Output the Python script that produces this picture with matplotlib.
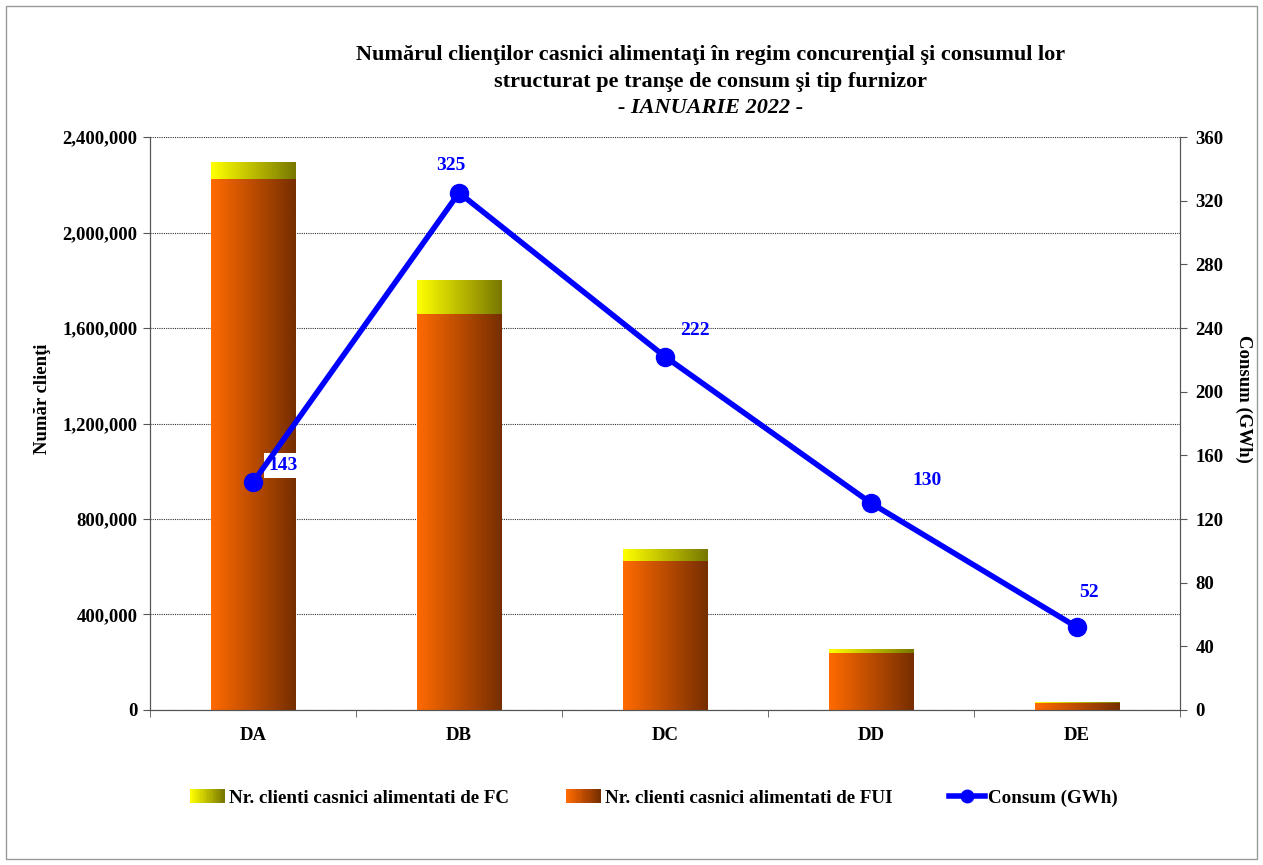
import numpy as np
import matplotlib.pyplot as plt
from matplotlib.patches import Rectangle
from matplotlib.legend_handler import HandlerBase
from matplotlib.lines import Line2D
from matplotlib.ticker import FuncFormatter, MultipleLocator, FixedLocator

plt.rcParams['font.family'] = ['Liberation Serif', 'DejaVu Serif']
plt.rcParams['font.weight'] = 'bold'

# Date
categorii = ["DA", "DB", "DC", "DD", "DE"]
clienti_fui = [2224000, 1658000, 624000, 239000, 29000]
clienti_fc = [71000, 143000, 50000, 16000, 4500]
consum = [143, 325, 222, 130, 52]

grad_fc = ("#FFFF00", "#787800")
grad_fui = ("#FF6A00", "#772E00")


def gradient_img(c1, c2, n=64):
    a = np.array(plt.matplotlib.colors.to_rgb(c1))
    b = np.array(plt.matplotlib.colors.to_rgb(c2))
    t = np.linspace(0, 1, n)[:, None]
    return (a + (b - a) * t)[None, :, :]


def umple_gradient(ax, bars, c1, c2):
    img = gradient_img(c1, c2)
    for b in bars:
        x, y = b.get_x(), b.get_y()
        w, h = b.get_width(), b.get_height()
        b.set_facecolor("none")
        b.set_edgecolor("none")
        im = ax.imshow(img, extent=[x, x + w, y, y + h], aspect="auto",
                       zorder=2, interpolation="bilinear")
        im.set_clip_path(b)


class HandlerGradient(HandlerBase):
    def __init__(self, c1, c2):
        super().__init__()
        self.c1, self.c2 = c1, c2

    def create_artists(self, legend, orig_handle, xdescent, ydescent,
                       width, height, fontsize, trans):
        n = 20
        cols = gradient_img(self.c1, self.c2, n)[0]
        arts = []
        for i in range(n):
            r = Rectangle((-xdescent + width * i / n, -ydescent), width / n + 0.3,
                          height, facecolor=cols[i], edgecolor="none",
                          transform=trans)
            arts.append(r)
        return arts


fig = plt.figure(figsize=(12.63, 8.65), dpi=100)
ax = fig.add_axes([0.1188, 0.1792, 0.8155, 0.6624])
x = np.arange(len(categorii))

bars_fui = ax.bar(x, clienti_fui, width=0.41, zorder=2)
bars_fc = ax.bar(x, clienti_fc, width=0.41, bottom=clienti_fui, zorder=2)
umple_gradient(ax, bars_fui, *grad_fui)
umple_gradient(ax, bars_fc, *grad_fc)

ax.set_xlim(-0.5, len(categorii) - 0.5)
ax.set_ylim(0, 2400000)
ax.yaxis.set_major_locator(MultipleLocator(400000))
ax.yaxis.set_major_formatter(FuncFormatter(lambda v, p: f"{int(v):,}"))
ax.yaxis.grid(True, color="#333333", linestyle=(0, (1, 1)), linewidth=0.8)
ax.set_axisbelow(True)
ax.set_xticks(x)
ax.set_xticklabels(categorii)
ax.tick_params(axis="x", which="major", length=0, pad=12, labelsize=13.5)
ax.xaxis.set_minor_locator(FixedLocator(np.arange(-0.5, len(categorii), 1.0)))
ax.tick_params(axis="x", which="minor", length=5, color="#555555")
ax.tick_params(axis="y", labelsize=13.5, length=5, color="#555555", pad=4)
ax.set_ylabel("Număr clienţi", fontsize=13.5, fontweight="bold", va="center")
ax.yaxis.set_label_coords(-0.104, 0.543)
ax.spines["top"].set_visible(False)
for s in ["left", "right", "bottom"]:
    ax.spines[s].set_color("#555555")

ax2 = ax.twinx()
ax2.plot(x, consum, color="#0000FF", linewidth=4, marker="o", markersize=13,
         zorder=5)
ax2.set_ylim(0, 360)
ax2.yaxis.set_major_locator(MultipleLocator(40))
ax2.tick_params(axis="y", labelsize=13.5, length=5, color="#555555", pad=6)
ax2.spines["top"].set_visible(False)
for s in ["left", "right", "bottom"]:
    ax2.spines[s].set_color("#555555")
ax2.set_ylabel("Consum (GWh)", fontsize=13.5, fontweight="bold", rotation=270,
               va="center")
ax2.yaxis.set_label_coords(1.062, 0.543)

offsets = [(21.6, 12.2), (-5.8, 19.4), (21.6, 18.7), (40, 16.6), (8.6, 25.2)]
for i, v in enumerate(consum):
    box = dict(facecolor="white", edgecolor="none", pad=3) if i == 0 else None
    ax2.annotate(f"{v}", (x[i], v), xytext=offsets[i], textcoords="offset points",
                 ha="center", va="center", color="#0000FF", fontsize=14,
                 fontweight="bold", bbox=box)

titlu = ["Numărul clienţilor casnici alimentaţi în regim concurenţial şi consumul lor",
         "structurat pe tranşe de consum şi tip furnizor"]
fig.text(0.5625, 1 - 55 / 865, titlu[0], ha="center", va="center",
         fontsize=16, fontweight="bold")
fig.text(0.5625, 1 - 82 / 865, titlu[1], ha="center", va="center",
         fontsize=16, fontweight="bold")
fig.text(0.5625, 1 - 108 / 865, "- IANUARIE 2022 -", ha="center", va="center",
         fontsize=16, fontweight="bold", style="italic")

h_fc = Rectangle((0, 0), 1, 1)
h_fui = Rectangle((0, 0), 1, 1)
h_line = Line2D([], [], color="#0000FF", linewidth=4, marker="o", markersize=9)
fig.legend([h_fc, h_fui, h_line],
           ["Nr. clienti casnici alimentati de FC",
            "Nr. clienti casnici alimentati de FUI",
            "Consum (GWh)"],
           handler_map={h_fc: HandlerGradient(*grad_fc),
                        h_fui: HandlerGradient(*grad_fui)},
           loc="center", bbox_to_anchor=(654 / 1263, 1 - 798 / 865), ncol=3,
           frameon=False, fontsize=13.7, handlelength=1.85, handletextpad=0.2,
           columnspacing=3.0, borderpad=0)

fig.patches.append(Rectangle((0.005, 0.007), 0.99, 0.986, transform=fig.transFigure,
                             fill=False, edgecolor="#999999", linewidth=1))

fig.savefig("out.png", dpi=100)
